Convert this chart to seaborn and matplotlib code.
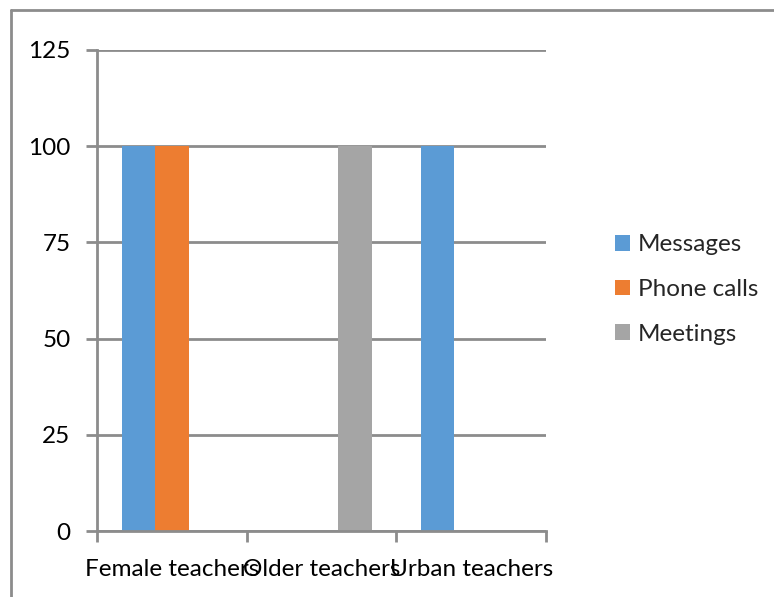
import matplotlib
matplotlib.use("Agg")
import matplotlib.pyplot as plt
import seaborn as sns
import pandas as pd
from matplotlib.lines import Line2D

categories = ["Female teachers", "Older teachers", "Urban teachers"]
series = ["Messages", "Phone calls", "Meetings"]
messages = [100, 0, 100]
phone_calls = [100, 0, 0]
meetings = [0, 100, 0]
yticks = [0, 25, 50, 75, 100, 125]

colors = ["#5B9BD5", "#ED7D31", "#A5A5A5"]
grey = "#8C8C8C"

df = pd.DataFrame({
    "category": categories * 3,
    "series": [s for s in series for _ in categories],
    "value": messages + phone_calls + meetings,
})

sns.set_style("white")
plt.rcParams["font.family"] = ["Lato", "DejaVu Sans"]
fs = 17.5

fig = plt.figure(figsize=(7.74, 5.97), dpi=100)
ax = fig.add_axes([97 / 774, 66 / 597, 449 / 774, 481 / 597])

sns.barplot(data=df, x="category", y="value", hue="series", order=categories,
            hue_order=series, palette=colors, width=0.67, gap=0, saturation=1,
            linewidth=0, ax=ax, legend=True)

ax.set_ylim(0, 125)
ax.set_xlim(-0.5, 2.5)
ax.set_yticks(yticks)
ax.set_xlabel("")
ax.set_ylabel("")
ax.yaxis.grid(True, color=grey, linewidth=2)
ax.set_axisbelow(True)
for s in ["top", "right"]:
    ax.spines[s].set_visible(False)
for s in ["left", "bottom"]:
    ax.spines[s].set_color(grey)
    ax.spines[s].set_linewidth(2)

ax.tick_params(axis="y", length=8, width=2, color=grey, labelsize=fs, pad=11, left=True)
ax.set_xticks([-0.5, 0.5, 1.5, 2.5], minor=True)
ax.tick_params(axis="x", which="minor", length=8, width=2, color=grey, bottom=True)
ax.tick_params(axis="x", which="major", length=0, labelsize=fs, pad=20)
for lab in ax.get_yticklabels() + ax.get_xticklabels():
    lab.set_color("black")

handles, labels = ax.get_legend_handles_labels()
ax.legend(handles, labels, loc="center left", bbox_to_anchor=(1.154, 0.502), frameon=False,
          fontsize=fs, handlelength=0.62, handleheight=0.62, handletextpad=0.3,
          labelspacing=0.97, borderpad=0, borderaxespad=0)

# outer chart frame (only left and top edges show in the crop)
fig.add_artist(Line2D([11 / 774, 11 / 774], [0, 1 - 10 / 597], transform=fig.transFigure,
                      color=grey, linewidth=2))
fig.add_artist(Line2D([11 / 774, 1], [1 - 10 / 597, 1 - 10 / 597], transform=fig.transFigure,
                      color=grey, linewidth=2))

fig.savefig("out.png", dpi=100)
